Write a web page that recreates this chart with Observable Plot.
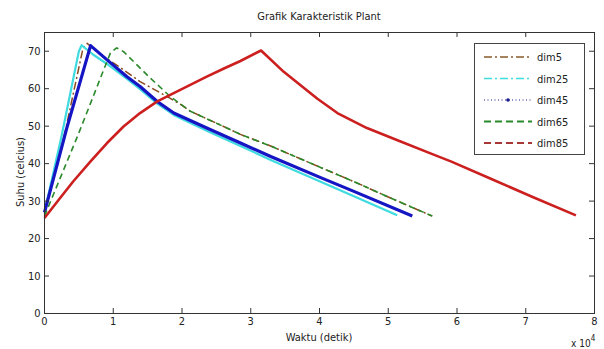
<!DOCTYPE html>
<html><head><meta charset="utf-8">
<script src="https://cdn.jsdelivr.net/npm/d3@7"></script>
<script src="https://cdn.jsdelivr.net/npm/@observablehq/plot@0.6"></script>
<style>
body{margin:0;background:#fff;}
#wrap{position:relative;width:604px;height:349px;overflow:hidden;font-family:"Liberation Sans Narrow","Arial Narrow","DejaVu Sans Condensed",sans-serif;color:#222;}
.t{position:absolute;white-space:nowrap;}
#legend{position:absolute;left:474px;top:43px;width:111px;height:112px;border:1px solid #444;background:#fff;box-sizing:border-box;}
</style></head><body><div id="wrap"></div>
<script>
// Series data (time in units of 10^4 s, temperature in celcius)
const seriesNames = ["dim5", "dim25", "dim45", "dim65", "dim85"];
const dim5Time = [0, 0.3, 0.56, 0.62, 0.8, 1.05, 1.39, 1.83, 1.98, 2.12, 2.5, 2.85, 3.29, 4.0, 4.5, 5.0, 5.3, 5.64];
const dim5Temp = [26.5, 48.5, 70.8, 72.1, 69.3, 66.3, 61.9, 57.4, 55.8, 54.0, 50.8, 47.8, 44.7, 39.1, 35.2, 31.1, 28.7, 26.0];
const dim25Time = [0, 0.25, 0.45, 0.5, 0.54, 0.7, 0.91, 1.2, 1.39, 1.64, 1.88, 2.36, 2.85, 3.29, 4.0, 4.5, 5.13];
const dim25Temp = [27, 47.5, 65.5, 70.0, 71.6, 69.2, 66.6, 62.6, 59.9, 56.0, 53.0, 48.8, 44.7, 41.0, 35.3, 31.3, 26.2];
const dim45Time = [0, 0.32, 0.67, 0.91, 1.2, 1.39, 1.64, 1.88, 2.36, 2.85, 3.29, 4.0, 4.5, 5.35];
const dim45Temp = [27, 49.2, 71.5, 67.7, 63.2, 60.6, 56.6, 53.5, 49.5, 45.5, 41.9, 36.4, 32.6, 26.0];
const dim65Time = [0, 0.5, 0.86, 0.96, 1.05, 1.15, 1.54, 1.83, 2.12, 2.5, 2.85, 3.29, 4.0, 4.5, 5.0, 5.64];
const dim65Temp = [26, 48.2, 65.0, 69.6, 70.9, 69.9, 62.8, 57.9, 54.0, 50.8, 47.8, 44.7, 39.1, 35.2, 31.1, 26.0];
const dim85Time = [0, 0.23, 0.42, 0.67, 0.91, 1.15, 1.39, 1.64, 1.88, 2.12, 2.36, 2.61, 2.85, 3.15, 3.48, 3.72, 3.97, 4.26, 4.69, 5.18, 5.66, 5.91, 6.5, 7.1, 7.73];
const dim85Temp = [25.5, 30.9, 35.3, 40.6, 45.5, 49.9, 53.5, 56.6, 58.8, 61.0, 63.2, 65.4, 67.4, 70.2, 64.5, 61.0, 57.3, 53.5, 49.5, 45.9, 42.4, 40.6, 35.9, 31.1, 26.2];
const xTicks = [0, 1, 2, 3, 4, 5, 6, 7, 8];
const yTicks = [0, 10, 20, 30, 40, 50, 60, 70];
const titleText = "Grafik Karakteristik Plant";
const xLabel = "Waktu (detik)";
const yLabel = "Suhu (celcius)";

const toRows = (t, v) => t.map((x, i) => ({x, y: v[i]}));
const styles = {
  dim5:  {stroke: "#8b4a1e", strokeWidth: 1.5, strokeDasharray: "8,3,2,3"},
  dim25: {stroke: "#3fdbe0", strokeWidth: 2.2},
  dim45: {stroke: "#1515c4", strokeWidth: 3.2},
  dim65: {stroke: "#2a8a2a", strokeWidth: 1.6, strokeDasharray: "6,4"},
  dim85: {stroke: "#cc1f1f", strokeWidth: 2.6}
};
const legendStyles = {
  dim5:  {stroke: "#8b5a2b", width: 1.5, dash: "8,3,2,3"},
  dim25: {stroke: "#3fdbe0", width: 1.5, dash: "8,3,2,3"},
  dim45: {stroke: "#1a1a8c", width: 1, dash: "1,2.5"},
  dim65: {stroke: "#2a8a2a", width: 1.8, dash: "7,4"},
  dim85: {stroke: "#a83838", width: 1.8, dash: "7,4"}
};
const data = {
  dim5: toRows(dim5Time, dim5Temp),
  dim25: toRows(dim25Time, dim25Temp),
  dim45: toRows(dim45Time, dim45Temp),
  dim65: toRows(dim65Time, dim65Temp),
  dim85: toRows(dim85Time, dim85Temp)
};

const W = 604, H = 349, mL = 44, mR = 10, mT = 32, mB = 36;
const tickLenY = 75 * 5 / (H - mT - mB);
const tickLenX = 8 * 5 / (W - mL - mR);

const plot = Plot.plot({
  width: W, height: H,
  marginLeft: mL, marginRight: mR, marginTop: mT, marginBottom: mB,
  style: {fontFamily: '"Liberation Sans Narrow","Arial Narrow","DejaVu Sans Condensed",sans-serif', fontSize: "11px", color: "#222", background: "#fff"},
  x: {domain: [0, 8], ticks: xTicks, label: null},
  y: {domain: [0, 75], ticks: yTicks, label: null},
  marks: [
    Plot.axisX(xTicks, {tickSize: 0, tickPadding: 4, label: null, tickFormat: d => String(d)}),
    Plot.axisY(yTicks, {tickSize: 0, tickPadding: 4, label: null, tickFormat: d => String(d)}),
    ...seriesNames.map(n => Plot.line(data[n], {x: "x", y: "y", ...styles[n], strokeLinejoin: "round", strokeLinecap: "butt"})),
    Plot.ruleX(xTicks.slice(1, -1), {x: d => d, y1: 0, y2: tickLenY, stroke: "#333"}),
    Plot.ruleX(xTicks.slice(1, -1), {x: d => d, y1: 75 - tickLenY, y2: 75, stroke: "#333"}),
    Plot.ruleY(yTicks.slice(1), {y: d => d, x1: 0, x2: tickLenX, stroke: "#333"}),
    Plot.ruleY(yTicks.slice(1), {y: d => d, x1: 8 - tickLenX, x2: 8, stroke: "#333"}),
    Plot.frame({stroke: "#333", strokeWidth: 1})
  ]
});

const wrap = document.getElementById("wrap");
wrap.appendChild(plot);

function addText(txt, css, html) {
  const d = document.createElement("div");
  d.className = "t";
  if (html) d.innerHTML = txt; else d.textContent = txt;
  Object.assign(d.style, css);
  wrap.appendChild(d);
  return d;
}
addText(titleText, {left: "319px", top: "10px", transform: "translateX(-50%)", fontSize: "11px"});
addText(xLabel, {left: "319px", top: "331px", transform: "translateX(-50%)", fontSize: "11px"});
addText(yLabel, {left: "20px", top: "172px", transform: "translate(-50%,-50%) rotate(-90deg)", fontSize: "11px"});
addText("x 10<sup style='font-size:8px;position:relative;top:-2px'>4</sup>", {left: "571px", top: "336px", fontSize: "10px"}, true);

// Legend
const leg = document.createElement("div");
leg.id = "legend";
const ns = "http://www.w3.org/2000/svg";
const svg = document.createElementNS(ns, "svg");
svg.setAttribute("width", 111); svg.setAttribute("height", 112);
seriesNames.forEach((n, i) => {
  const y = 13 + i * 21.5;
  const ls = legendStyles[n];
  const l = document.createElementNS(ns, "line");
  l.setAttribute("x1", 9); l.setAttribute("x2", 57);
  l.setAttribute("y1", y); l.setAttribute("y2", y);
  l.setAttribute("stroke", ls.stroke); l.setAttribute("stroke-width", ls.width);
  l.setAttribute("stroke-dasharray", ls.dash);
  svg.appendChild(l);
  if (n === "dim45") {
    const c = document.createElementNS(ns, "circle");
    c.setAttribute("cx", 33); c.setAttribute("cy", y); c.setAttribute("r", 1.8);
    c.setAttribute("fill", "#1a1a8c");
    svg.appendChild(c);
  }
  const t = document.createElementNS(ns, "text");
  t.setAttribute("x", 62); t.setAttribute("y", y + 4);
  t.setAttribute("font-size", "11px"); t.setAttribute("fill", "#222");
  t.textContent = n;
  svg.appendChild(t);
});
leg.appendChild(svg);
wrap.appendChild(leg);
</script>
</body></html>
